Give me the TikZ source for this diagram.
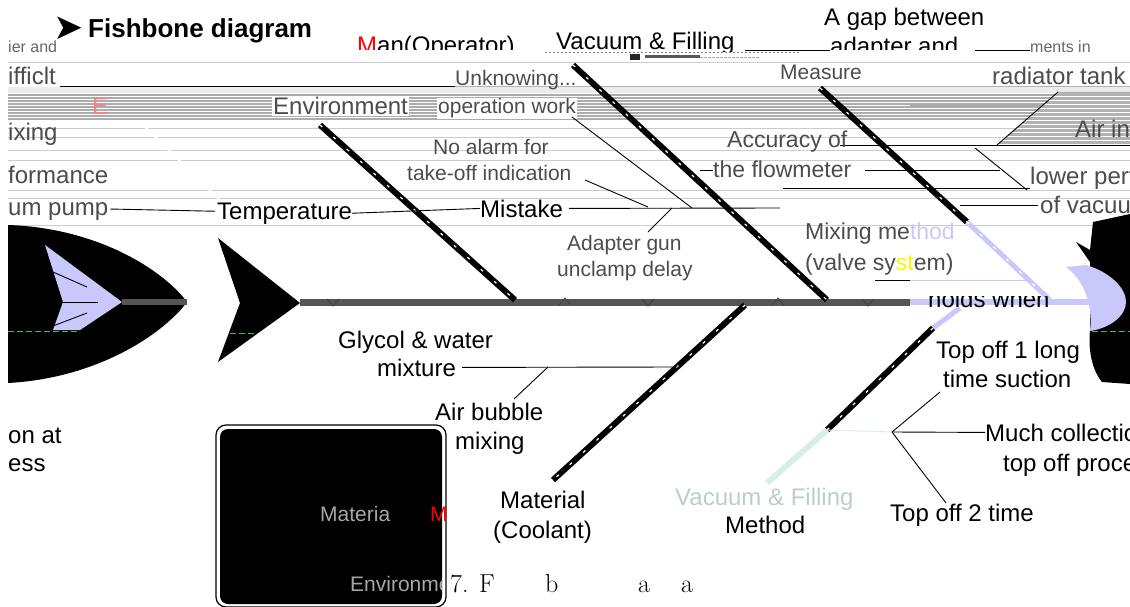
\documentclass[tikz,border=0pt]{standalone}
\usepackage{fontspec}
\usetikzlibrary{calc}
\newfontfamily\arial{Liberation Sans}
\newfontfamily\dejavu{DejaVu Sans}
\newcommand\myfs[1]{\fontsize{#1}{#1}\selectfont}
\definecolor{lav}{RGB}{200,200,250}
\definecolor{spinegray}{RGB}{85,85,85}
\definecolor{mint}{RGB}{215,240,230}
\definecolor{salmon}{RGB}{255,128,128}
\begin{document}
\begin{tikzpicture}[x=1pt,y=-1pt,
 lbl/.style={anchor=base west, inner sep=0pt, font=\arial\myfs{24}},
 glt/.style={anchor=base west, inner sep=0pt, font=\arial\myfs{21}, text=black!70},
 bone/.style={line width=6pt},
 lbone/.style={line width=5pt, lav},
 dashw/.style={white, line width=1.2pt, dash pattern=on 3pt off 15pt},
 thin/.style={line width=0.9pt},
 bgl/.style={gray!40, line width=0.8pt}]
\useasboundingbox (0,0) rectangle (1130,607);
\clip (0,0) rectangle (1130,607);

% ---------- background glitch lines ----------
\foreach \yy in {62,128,137,150,160,190,198,225}
  \draw[bgl] (8,\yy) -- (1130,\yy);
\draw[thin] (60,86) -- (455,86);
\draw[gray!60, line width=0.8pt] (455,86) -- (1130,86);
\fill[gray!15] (8,87) rectangle (1130,93);
\foreach \yy in {95,98,...,119}
  \draw[gray!65, line width=1.1pt] (8,\yy) -- (1130,\yy);
\draw[thin, gray!70] (910,105) -- (1130,105);
\draw[thin] (840,145) -- (1130,145);
\begin{scope}
  \clip (1058,92) -- (1130,92) -- (1130,145) -- (997,145) -- cycle;
  \fill[gray!60] (990,90) rectangle (1130,146);
  \foreach \yy in {96,100,...,144}
    \draw[white, line width=0.8pt] (990,\yy) -- (1130,\yy);
\end{scope}
\draw[white, line width=2pt] (143,125) -- (220,200);

% ---------- left fish head ----------
\fill[black] (8,225) .. controls (100,228) and (165,272) .. (187,302)
  .. controls (165,332) and (100,378) .. (8,383) -- cycle;
\fill[lav] (45,245) -- (122,302) -- (80,330) -- (53,330) -- (63,302) -- cycle;
\draw[thin] (53,272) -- (87,287);
\draw[thin] (63,302) -- (98,302);
\draw[thin] (53,326) -- (87,313);
\draw[spinegray, line width=6pt] (122,302) -- (187,302);
\draw[green!50!gray, line width=0.6pt, dash pattern=on 6pt off 3pt] (8,331) -- (80,331);

% ---------- tail arrow ----------
\fill[black] (218,238) -- (300,303) -- (218,362) -- (240,303) -- cycle;
\draw[green!50!gray, line width=0.6pt, dash pattern=on 6pt off 3pt] (230,333) -- (258,333);

% ---------- right head ----------
\fill[black] (1093,222) -- (1130,214) -- (1130,384) -- (1102,382)
  .. controls (1092,370) and (1088,350) .. (1090,330) -- (1090,262)
  -- (1076,242) -- (1090,250) -- cycle;
\fill[lav] (1066,267) -- (1086,265) .. controls (1110,272) and (1126,288) .. (1126,302)
  .. controls (1126,316) and (1110,328) .. (1090,331)
  .. controls (1092,315) and (1090,285) .. (1066,267) -- cycle;
\draw[green!50!gray, line width=0.6pt, dash pattern=on 6pt off 3pt] (1092,331) -- (1130,331);

% ---------- spine ----------
\coordinate (spA) at (300,302);
\coordinate (spM) at (910,302);
\coordinate (spB) at (1100,302);
\draw[spinegray, line width=7pt] (spA) -- (spM);
\draw[lav, line width=6pt] (spM) -- (spB);
\foreach \xx in {333,648,868}
  \draw[black!75, line width=0.8pt] (\xx-6,299) -- (\xx,306) -- (\xx+6,299);
\foreach \xx in {565,778}
  \draw[black!75, line width=0.8pt] (\xx-6,305) -- (\xx,298) -- (\xx+6,305);

% ---------- bones ----------
\coordinate (envA) at (320,125); \coordinate (envB) at (515,300);
\coordinate (manA) at (573,65);  \coordinate (manB) at (827,300);
\coordinate (meaA) at (820,88);  \coordinate (meaM) at (967,222); \coordinate (meaB) at (1050,300);
\coordinate (matA) at (745,305); \coordinate (matB) at (553,480);
\coordinate (metA) at (960,308); \coordinate (metM1) at (933,328);
\coordinate (metM2) at (827,430); \coordinate (metB) at (767,483);

\draw[bone] (envA) -- (envB);  \draw[dashw] (envA) -- (envB);
\draw[bone] (manA) -- (manB);  \draw[dashw] (manA) -- (manB);
\draw[bone] (meaA) -- (meaM);  \draw[dashw] (meaA) -- (meaM);
\draw[lbone] (meaM) -- (meaB); \draw[dashw] (meaM) -- (meaB);
\draw[bone] (matA) -- (matB);  \draw[dashw] (matA) -- (matB);
\draw[lbone] (metA) -- (metM1);
\draw[bone] (metM1) -- (metM2); \draw[dashw] (metM1) -- (metM2);
\draw[mint, line width=6pt] (metM2) -- (metB);

% ---------- top texts (cut) ----------
\begin{scope}
  \clip (340,0) rectangle (1000,49.5);
  \node[lbl] (man) at (357,54) {{\color{red}M}an(Operator)};
  \node[lbl] (adap) at (830,55) {adapter and};
\end{scope}
\begin{scope}
  \clip (540,0) rectangle (760,52);
  \node[lbl] (vac) at (556,50) {Vacuum \& Filling};
\end{scope}
\draw[gray, line width=0.8pt, dash pattern=on 2pt off 2pt] (545,52) -- (800,52);
\fill[black!85] (630,54) rectangle (640,60);
\fill[black!65] (645,55) rectangle (700,58);
\draw[gray!70, line width=0.8pt, dash pattern=on 3pt off 1pt] (700,57) -- (760,57);
\draw[thin] (745,50) -- (830,50);
\draw[thin] (975,50) -- (1030,50);
\node[glt, font=\arial\myfs{16}, text=black!60] (nts) at (1030,53) {ments in};
\node[glt, font=\arial\myfs{16}, text=black!60] (ier) at (8,53) {ier and};

\node[font=\dejavu\myfs{36}, anchor=base west, inner sep=0pt] (arr) at (53,40) {➤};
\node[lbl, font=\arial\bfseries\myfs{26}] (title) at (88,38) {Fishbone diagram};
\node[lbl] (gap) at (824,26) {A gap between};

% ---------- glitch-styled labels ----------
\node[glt, font=\arial\myfs{24}] (iff) at (8,85) {ifficlt};
\node[glt, font=\arial\myfs{24}] (ixing) at (8,141) {ixing};
\node[glt, font=\arial\myfs{24}] (form) at (8,183) {formance};
\node[glt, font=\arial\myfs{24}] (ump) at (8,215) {um pump};
\node[lbl, text=salmon] (E) at (92,115) {E};
\node[glt, font=\arial\myfs{24}, fill=white, inner sep=1pt] (env) at (272,115) {Environment};
\node[glt] (unk) at (455,86) {Unknowing...};
\node[glt, fill=white, inner sep=1pt] (opw) at (437,114) {operation work};
\node[glt] (meas) at (780,80) {Measure};
\node[glt, font=\arial\myfs{24}] (rad) at (992,85) {radiator tank};
\node[glt, font=\arial\myfs{24}] (air) at (1075,138) {Air in};
\node[glt] (noal) at (433,155) {No alarm for};
\node[glt] (take) at (407,181) {take-off indication};
\node[glt, font=\arial\myfs{23}] (acc) at (727,148) {Accuracy of};
\node[glt, font=\arial\myfs{23}] (flow) at (713,178) {the flowmeter};
\node[glt, font=\arial\myfs{24}] (low) at (1030,185) {lower performance};
\node[glt, font=\arial\myfs{24}] (ofv) at (1040,213) {of vacuum pump};
\node[glt] (adg) at (567,250) {Adapter gun};
\node[glt] (unc) at (557,276) {unclamp delay};
\node[glt, font=\arial\myfs{23}] (mix) at (805,239) {Mixing me{\color{lav}thod}};
\node[glt, font=\arial\myfs{23}] (valve) at (805,270) {(valve sy{\color{yellow}st}em)};
\begin{scope}
  \clip (900,296) rectangle (1090,312);
  \node[lbl] (holds) at (928,307) {holds when};
\end{scope}

% ---------- clear labels ----------
\node[lbl] (temp) at (217,219) {Temperature};
\node[lbl] (mist) at (480,217) {Mistake};
\node[lbl] (gly1) at (338,348) {Glycol \& water};
\node[lbl] (gly2) at (377,376) {mixture};
\node[lbl] (ab1) at (435,420) {Air bubble};
\node[lbl] (ab2) at (455,449) {mixing};
\node[lbl] (mat1) at (500,508) {Material};
\node[lbl] (mat2) at (493,538) {(Coolant)};
\node[lbl, text=mint!70!gray] (vf) at (675,505) {Vacuum \& Filling};
\node[lbl] (meth) at (725,533) {Method};
\node[lbl] (to1a) at (936,358) {Top off 1 long};
\node[lbl] (to1b) at (943,387) {time suction};
\node[lbl] (much1) at (985,441) {Much collection at};
\node[lbl] (much2) at (1003,471) {top off process};
\node[lbl] (to2) at (890,521) {Top off 2 time};
\node[lbl] (onat) at (8,443) {on at};
\node[lbl] (ess) at (8,471) {ess};

% ---------- thin connectors ----------
\coordinate (tk) at (648,207);
\coordinate (ow) at (692,208);
\coordinate (ag) at (672,208);
\coordinate (mb) at (729,208);
\coordinate (gm) at (678,367);
\coordinate (abj) at (548,367);
\coordinate (toj) at (892,432);
\draw[thin] ($(ump.east)+(2,-2)$) -- ($(temp.west)+(-2,-2)$);
\draw[thin] (temp.east) -- (mist.west);
\draw[thin] ($(mist.east)+(6,0)$) -- (780,208);
\draw[thin] (585,180) -- (tk);
\draw[thin] (572,117) -- (ow);
\draw[thin] (648,232) -- (ag);
\draw[thin] ($(gly2.east)+(6,0)$) -- (gm);
\draw[thin] (514,399) -- (abj);
\draw[thin] (700,170) -- (713,170);
\draw[thin] (865,170) -- (1000,170);
\draw[thin] (783,188) -- (1030,188);
\draw[thin] (1058,92) -- (997,145);
\draw[thin] (975,148) -- (1027,190);
\draw[thin] (960,205) -- (1038,205);
\draw[thin] (875,280) -- (910,280);
\draw[lav, line width=1pt] (910,280) -- (1030,280);
\draw[mint, line width=1pt] (metM2) -- (toj);
\draw[thin] (toj) -- (940,392);
\draw[thin] (toj) -- (much1.west);
\draw[thin] (toj) -- (946,503);

% ---------- bottom box ----------
\draw[line width=1.2pt, rounded corners=10pt] (216,425) rectangle (446,607);
\fill[black, rounded corners=8pt] (220,429) rectangle (442,604);
\node[glt, text=gray!70] (bm) at (320,521) {Materia};
\node[glt, text=red] (bm2) at (430,521) {M};
\begin{scope}
  \clip (220,429) rectangle (441,604);
  \node[glt, text=gray!70] (benv) at (350,591) {Environment};
  \draw[teal, line width=1pt] (318,605) arc (180:120:14);
\end{scope}

% ---------- caption ----------
\node[anchor=base west, inner sep=0pt, font=\myfs{26}] (c1) at (450,592) {7. F};
\node[anchor=base west, inner sep=0pt, font=\myfs{26}] (c2) at (545,592) {b};
\node[anchor=base west, inner sep=0pt, font=\myfs{26}] (c3) at (638,592) {a};
\node[anchor=base west, inner sep=0pt, font=\myfs{26}] (c4) at (681,592) {a};
\end{tikzpicture}
\end{document}
